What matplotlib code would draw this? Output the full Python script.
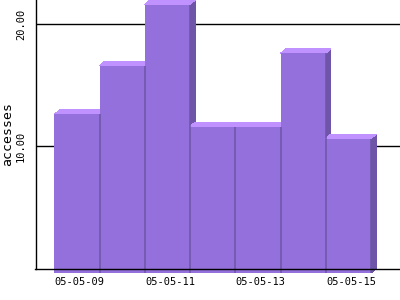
import matplotlib
matplotlib.use("Agg")
import matplotlib.pyplot as plt
from matplotlib.patches import Rectangle, Polygon
import numpy as np

categories = ['05-05-09', '05-05-10', '05-05-11', '05-05-12', '05-05-13', '05-05-14', '05-05-15']
values = [13, 17, 22, 12, 12, 18, 11]
y_ticks = [10, 20]

front_c = '#9370DB'
top_c = '#BF92FF'
side_c = '#6E55A8'
font_mono = 'DejaVu Sans Mono'

fig = plt.figure(figsize=(4, 3), dpi=100)
ax = fig.add_axes([35.5 / 400, (300 - 268.5) / 300, (400 - 35.5) / 400, 268.5 / 300])
ax.set_xlim(-1.03, 7.03)
ax.set_ylim(0, 22)

# depth of the 3D effect in pixels, converted through the axes transform
p0 = ax.transData.transform((0, 0))
p1 = ax.transData.transform((1, 1))
sx, sy = p1[0] - p0[0], p1[1] - p0[1]
ddx = 5 / sx
ddy = 4.5 / sy

x = np.arange(len(categories))
for i, v in zip(x, values):
    x0, x1 = i - 0.5, i + 0.5
    ax.add_patch(Polygon([(x1, v), (x1, 0), (x1 - ddx, -ddy), (x1 - ddx, v - ddy)],
                         closed=True, fc=side_c, ec='none', zorder=2, clip_on=False,
                         antialiased=False))
    ax.add_patch(Polygon([(x0, v), (x1, v), (x1 - ddx, v - ddy), (x0 - ddx, v - ddy)],
                         closed=True, fc=top_c, ec='none', zorder=2, clip_on=False,
                         antialiased=False))
    ax.add_patch(Rectangle((x0 - ddx, -ddy), 1, v, fc=front_c, ec='none',
                           zorder=2, clip_on=False, antialiased=False))
for i, v in zip(x, values):
    x1 = i + 0.5
    ax.plot([x1 - ddx, x1 - ddx], [-ddy, v - ddy], color=side_c, lw=1.1,
            zorder=2.2, clip_on=False, solid_capstyle='butt')

ax.set_yticks(y_ticks)
ax.set_yticklabels(['%.2f' % t for t in y_ticks], rotation=90, va='center',
                   fontfamily=font_mono, fontsize=7.5)
ax.set_xticks(x[::2] - 0.05)
ax.set_xticklabels(categories[::2], fontfamily=font_mono, fontsize=7.5)
ax.tick_params(axis='both', length=0)
ax.tick_params(axis='x', pad=6)
ax.tick_params(axis='y', pad=7)
ax.yaxis.grid(True, color='black', lw=1)
ax.set_axisbelow(True)
for s in ['top', 'right']:
    ax.spines[s].set_visible(False)
for s in ['left', 'bottom']:
    ax.spines[s].set_color('black')
    ax.spines[s].set_linewidth(1)
    ax.spines[s].set_zorder(3)
ax.set_ylabel('accesses', fontfamily=font_mono, fontsize=9.5, labelpad=1)

fig.savefig('out.png', dpi=100)
